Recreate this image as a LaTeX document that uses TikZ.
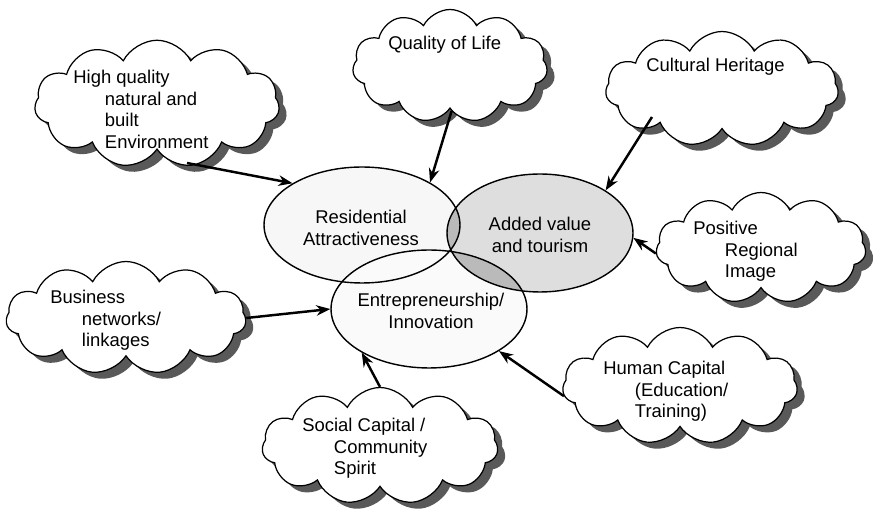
\documentclass[tikz,border=0pt]{standalone}
\usepackage{fontspec}
\setmainfont{Liberation Sans}
\usetikzlibrary{shapes.symbols,shapes.geometric,shadows,arrows.meta,backgrounds,calc}

\tikzset{
  puff/.style={cloud, cloud puffs=11, cloud puff arc=125, cloud ignores aspect,
    draw, line width=0.7pt, fill=white, inner sep=0pt,
    drop shadow={shadow xshift=0.15cm, shadow yshift=-0.13cm, fill=black!65, opacity=1}},
  blob/.style={ellipse, draw, line width=0.8pt, inner sep=0pt},
  say/.style={align=left, anchor=north west, inner sep=0pt,
    font=\fontsize{10.5}{12.2}\selectfont},
  mid/.style={align=center, inner sep=0pt, font=\fontsize{10.5}{12.2}\selectfont},
  feed/.style={line width=1.4pt, -{Stealth[length=8pt,width=6pt]}}
}

\begin{document}
\begin{tikzpicture}[x=0.02cm, y=-0.02cm]
\useasboundingbox (0,0) rectangle (873,509);
% the three fields
\node[blob, minimum width=3.92cm, minimum height=2.32cm] (res) at (362,225) {};
\node[blob, minimum width=3.72cm, minimum height=2.36cm] (av) at (540,233) {};
\node[blob, minimum width=3.92cm, minimum height=2.36cm] (ent) at (429,309) {};
\node[mid] (resT) at (361,228) {Residential\\Attractiveness};
\node[mid] (avT) at (540,235) {Added value\\and tourism};
\node[mid] (entT) at (431,311) {Entrepreneurship/\\Innovation};
\begin{scope}[on background layer]
  \fill[black!3] (res.center) ellipse [x radius=1.96cm, y radius=1.16cm];
  \fill[black!2] (ent.center) ellipse [x radius=1.96cm, y radius=1.18cm];
  \fill[black!13] (av.center) ellipse [x radius=1.86cm, y radius=1.18cm];
  \begin{scope}
    \clip (av.center) ellipse [x radius=1.86cm, y radius=1.18cm];
    \fill[black!27] (res.center) ellipse [x radius=1.96cm, y radius=1.16cm];
    \fill[black!27] (ent.center) ellipse [x radius=1.96cm, y radius=1.18cm];
  \end{scope}
\end{scope}
% clouds
\node[puff, minimum width=4.9cm, minimum height=2.55cm] (hq) at (157,104) {};
\node[puff, minimum width=3.9cm, minimum height=2.26cm] (qol) at (450,66) {};
\node[puff, minimum width=4.66cm, minimum height=2.3cm] (cult) at (722,89) {};
\node[puff, minimum width=4.2cm, minimum height=2.22cm] (pos) at (761,248) {};
\node[puff, minimum width=4.8cm, minimum height=2.26cm] (bus) at (126,318) {};
\node[puff, minimum width=4.7cm, minimum height=2.34cm] (hum) at (680,386) {};
\node[puff, minimum width=4.72cm, minimum height=2.34cm] (soc) at (380,446) {};
\node[say] (hqT) at (73,70) {High quality\\\hspace*{18pt}natural and\\\hspace*{18pt}built\\\hspace*{18pt}Environment};
\node[say] (qolT) at (388,36) {Quality of Life};
\node[say] (cultT) at (646,58) {Cultural Heritage};
\node[say] (posT) at (693,221) {Positive\\\hspace*{18pt}Regional\\\hspace*{18pt}Image};
\node[say] (busT) at (50,290) {Business\\\hspace*{18pt}networks/\\\hspace*{18pt}linkages};
\node[say] (humT) at (603,361) {Human Capital\\\hspace*{18pt}(Education/\\\hspace*{18pt}Training)};
\node[say] (socT) at (302,418) {Social Capital /\\\hspace*{18pt}Community\\\hspace*{18pt}Spirit};
% arrows into the fields
\draw[feed] ($(hq.center)+(30,59)$) -- (res.149);
\draw[feed] (qol.-88) -- (res.32);
\draw[feed] ($(cult.center)+(-70,28)$) -- (av.33);
\draw[feed] (pos.183) -- (av.-3);
\draw[feed] (bus.0) -- (ent.180);
\draw[feed] (hum.185) -- (ent.-31);
\draw[feed] (soc.90) -- (ent.213);
\end{tikzpicture}
\end{document}
